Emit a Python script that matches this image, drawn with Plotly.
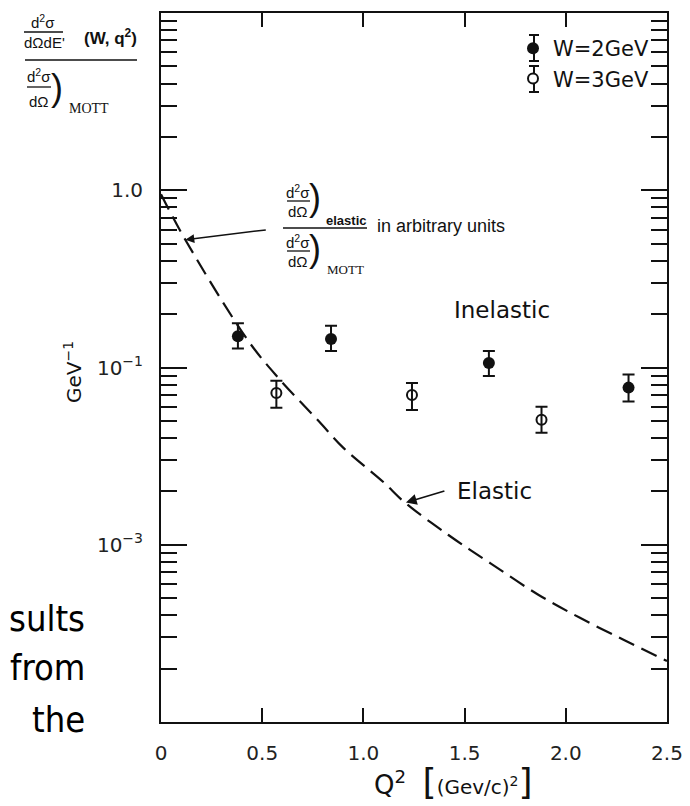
import math
import plotly.graph_objects as go

# ---------------- data ----------------
q2_w2 = [0.38, 0.84, 1.62, 2.31]
r_w2 = [0.150, 0.145, 0.106, 0.077]
r_w2_hi = [0.1775, 0.172, 0.124, 0.0912]
r_w2_lo = [0.128, 0.124, 0.0896, 0.0642]

q2_w3 = [0.57, 1.24, 1.88]
r_w3 = [0.0719, 0.070, 0.0508]
r_w3_hi = [0.0841, 0.0818, 0.0601]
r_w3_lo = [0.0592, 0.0576, 0.0429]

q2_el = [0.0, 0.12, 0.43, 0.58, 0.78, 0.90, 1.10, 1.20, 1.42, 1.63, 1.86, 2.07, 2.29, 2.5]
r_el = [0.95, 0.526, 0.142, 0.0873, 0.0497, 0.0353, 0.0225, 0.0175, 0.01135,
        0.00783, 0.00526, 0.00387, 0.00289, 0.00221]

x_tickvals = [0, 0.5, 1.0, 1.5, 2.0, 2.5]
x_ticktext = ["0", "0.5", "1.0", "1.5", "2.0", "2.5"]
y_tickvals = [1.0, 0.1, 0.01]
y_ticktext = ["1.0", "10<sup>\u22121</sup>", "10<sup>\u22123</sup>"]

# ---------------- layout helpers ----------------
PAGE_W, PAGE_H = 690, 806
OFF = 8                       # browser body margin
W, H = PAGE_W - OFF, PAGE_H - OFF
L, R, T, B = 161, 667, 13, 722   # plot area in page pixels
INK = "#111111"
FRAC = "Liberation Sans, Arial, sans-serif"
LETTER = "DejaVu Sans, sans-serif"


def px(x):
    return (x - L) / (R - L)


def py(y):
    return (B - y) / (B - T)


fig = go.Figure()

fig.add_trace(go.Scatter(
    x=q2_el, y=r_el, mode="lines", line=dict(color=INK, width=2.2, dash="17px,8px", shape="spline"),
    showlegend=False, hoverinfo="skip"))

fig.add_trace(go.Scatter(
    x=q2_w2, y=r_w2, mode="markers", name="W=2GeV",
    marker=dict(symbol="circle", size=12, color=INK),
    error_y=dict(type="data", symmetric=False,
                 array=[h - v for h, v in zip(r_w2_hi, r_w2)],
                 arrayminus=[v - l for l, v in zip(r_w2_lo, r_w2)],
                 color=INK, thickness=2, width=6)))

fig.add_trace(go.Scatter(
    x=q2_w3, y=r_w3, mode="markers", name="W=3GeV",
    marker=dict(symbol="circle-open", size=10, color=INK, line=dict(width=2, color=INK)),
    error_y=dict(type="data", symmetric=False,
                 array=[h - v for h, v in zip(r_w3_hi, r_w3)],
                 arrayminus=[v - l for l, v in zip(r_w3_lo, r_w3)],
                 color=INK, thickness=2, width=6)))

minor_y = [m * 10.0 ** e for e in range(-3, 1) for m in range(2, 10)]

fig.update_layout(
    width=W, height=H,
    margin=dict(l=L - OFF, r=PAGE_W - R, t=T - OFF, b=PAGE_H - B, autoexpand=False),
    paper_bgcolor="white", plot_bgcolor="white",
    font=dict(family=LETTER, color=INK),
    showlegend=True,
    legend=dict(x=px(513), y=py(28), xanchor="left", yanchor="top",
                bgcolor="rgba(0,0,0,0)", font=dict(size=21, family=LETTER, color=INK),
                tracegroupgap=0, itemwidth=30),
    xaxis=dict(range=[0, 2.5], tickvals=x_tickvals, ticktext=x_ticktext,
               ticks="inside", ticklen=14, tickwidth=1.6, tickcolor=INK,
               showline=True, linewidth=2, linecolor=INK, mirror="ticks",
               showgrid=False, zeroline=False,
               tickfont=dict(size=20, family=LETTER, color="#222"),
               ticklabelstandoff=12),
    yaxis=dict(type="log", range=[-3, 1], tickvals=y_tickvals, ticktext=y_ticktext,
               ticks="inside", ticklen=26, tickwidth=1.6, tickcolor=INK,
               minor=dict(tickvals=minor_y, ticks="inside", ticklen=16, tickwidth=1.6, tickcolor=INK),
               showline=True, linewidth=2, linecolor=INK, mirror="ticks",
               showgrid=False, zeroline=False,
               tickfont=dict(size=20, family=LETTER, color="#222"),
               ticklabelstandoff=12),
)

ann = []
shapes = []


def text(t, x, y, size, family=FRAC, xanchor="center", weight="normal", angle=0):
    ann.append(dict(text=t, x=px(x), y=py(y), xref="paper", yref="paper",
                    xanchor=xanchor, yanchor="middle", showarrow=False, textangle=angle,
                    font=dict(size=size, family=family, color=INK, weight=weight)))


def seg(x0, x1, y0, y1, w=1.3):
    shapes.append(dict(type="line", xref="paper", yref="paper",
                       x0=px(x0), x1=px(x1), y0=py(y0), y1=py(y1),
                       line=dict(color=INK, width=w)))


def bar(x0, x1, y, w=1.3):
    seg(x0, x1, y, y, w)


# --- y-axis quantity (top-left fraction) ---
text("d<sup>2</sup>\u03c3", 43, 22, 15)
bar(24, 63, 32)
text("d\u03a9dE'", 44, 42, 15)
text("<b>(W, q<sup>2</sup>)</b>", 110, 37, 17)
bar(25, 137, 60, 1.6)
text("d<sup>2</sup>\u03c3", 39, 76, 15)
bar(27, 51, 87)
text("d\u03a9", 39, 101, 15)
text(")", 57, 88, 36, family=FRAC)
text("MOTT", 89, 108, 14, family="Liberation Serif, Times New Roman, serif")

# --- GeV^-1 ---
text("GeV<sup>\u22121</sup>", 73, 372, 20, family=LETTER, angle=-90)

# --- elastic fraction label ---
text("d<sup>2</sup>\u03c3", 298, 191, 15)
bar(287, 310, 201)
text("d\u03a9", 298, 211, 15)
text(")", 315, 197, 36, family=FRAC)
text("<b>elastic</b>", 346, 220, 13)
bar(283, 367, 228, 1.5)
text("d<sup>2</sup>\u03c3", 298, 241, 15)
bar(287, 310, 251)
text("d\u03a9", 298, 261, 15)
text(")", 315, 248, 36, family=FRAC)
text("MOTT", 345, 269, 13, family="Liberation Serif, Times New Roman, serif")
text("in arbitrary units", 375, 226, 18, xanchor="left")

# arrow from the fraction label to the elastic curve (log axis -> log10 coordinates)
ann.append(dict(x=0.12, y=math.log10(0.526), xref="x", yref="y", text="", showarrow=True,
                axref="pixel", ayref="pixel", ax=82, ay=-10,
                arrowhead=2, arrowsize=1.2, arrowwidth=1.5, arrowcolor=INK))

# --- curve labels ---
text("Inelastic", 502, 310, 23, family=LETTER)
text("Elastic", 455, 491, 23, family=LETTER, xanchor="left")
ann.append(dict(x=1.21, y=math.log10(0.0173), xref="x", yref="y", text="", showarrow=True,
                axref="pixel", ayref="pixel", ax=40, ay=-12,
                arrowhead=2, arrowsize=1.2, arrowwidth=1.8, arrowcolor=INK))

# --- legend error-bar glyphs ---
LX = 534
for cy, hollow in [(48, False), (79, True)]:
    if hollow:
        seg(LX, LX, cy - 13, cy - 5, 2)
        seg(LX, LX, cy + 5, cy + 13, 2)
    else:
        seg(LX, LX, cy - 13, cy + 13, 2)
    bar(LX - 5, LX + 5, cy - 13, 2)
    bar(LX - 5, LX + 5, cy + 13, 2)

# --- x-axis title ---
ann.append(dict(text="Q<sup>2</sup>  <span style='font-size:36px'>[</span>"
                     "<span style='font-size:20px'>(Gev/c)<sup>2</sup></span>"
                     "<span style='font-size:36px'>]</span>",
                x=px(372), y=py(781), xref="paper", yref="paper", xanchor="left", yanchor="middle",
                showarrow=False, font=dict(size=26, family=LETTER, color=INK)))

# --- slide text fragments at the left edge ---
SLIDE = "DejaVu Sans Condensed, DejaVu Sans, sans-serif"
for t, yy in [("sults", 618), ("from", 667), ("the", 719)]:
    ann.append(dict(text=t, x=px(87), y=py(yy), xref="paper", yref="paper",
                    xanchor="right", yanchor="middle", showarrow=False,
                    font=dict(size=36, family=SLIDE, color="#000")))

fig.update_layout(annotations=ann, shapes=shapes)
fig.write_html("out.html")
